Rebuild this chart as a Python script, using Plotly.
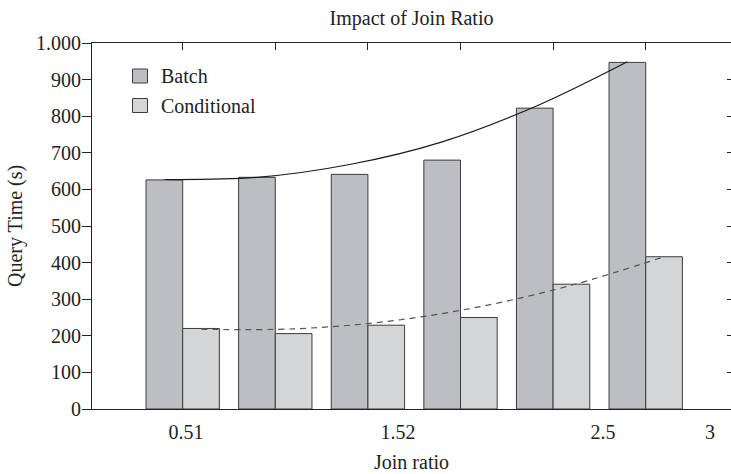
import plotly.graph_objects as go

# Query times per join-ratio group
positions = [1, 2, 3, 4, 5, 6]
series_names = ["Batch", "Conditional"]
batch = [626, 633, 641, 680, 822, 947]
conditional = [220, 206, 229, 250, 341, 416]

# Trend curves evaluated at each bar
batch_trend = [627, 633, 668, 730, 826, 949]
conditional_trend = [218, 219, 239, 279, 338, 416]

# Axis labelling
x_tick_pos = [1.036, 3.325, 5.539, 6.694]
x_tick_text = ["0.51", "1.52", "2.5", "3"]
y_tick_vals = [0, 100, 200, 300, 400, 500, 600, 700, 800, 900, 1000]
y_tick_text = ["0", "100", "200", "300", "400", "500", "600", "700", "800", "900", "1.000"]

FONT = "Liberation Serif"
INK = "#222222"
EDGE = "#3c3c3c"
FILLS = ["#bdbec2", "#d4d5d7"]
BAR_GAP = 0.208
half = (1 - BAR_GAP) / 4  # centre offset of each bar inside a group

# plot-area geometry in pixels, used to place the hand-drawn legend
L, R, T, B = 92, 731, 43, 409
W, H = R - L, B - T


def px_x(px):
    return (px - L) / W


def px_y(py):
    return (B - py) / H


fig = go.Figure()
for name, vals, fill in zip(series_names, [batch, conditional], FILLS):
    fig.add_trace(go.Bar(
        x=positions, y=vals, name=name, showlegend=False,
        marker=dict(color=fill, line=dict(color=EDGE, width=1)),
    ))
fig.add_trace(go.Scatter(
    x=[p - half for p in positions], y=batch_trend, mode="lines",
    line=dict(color="#1a1a1a", width=1.2, shape="spline"), showlegend=False,
    hoverinfo="skip",
))
fig.add_trace(go.Scatter(
    x=[p + half for p in positions], y=conditional_trend, mode="lines",
    line=dict(color="#555555", width=1.2, shape="spline", dash="6px,5px"),
    showlegend=False, hoverinfo="skip",
))
# Invisible trace to carry the top / right frame axes
fig.add_trace(go.Scatter(x=[1], y=[0], xaxis="x2", yaxis="y2", mode="markers",
                         marker=dict(opacity=0), showlegend=False, hoverinfo="skip"))

x_range = [0.0205, 6.921]

# Legend: swatch boxes and labels
shapes, annotations = [], []
for i, (name, fill) in enumerate(zip(series_names, FILLS)):
    top = 69 + i * 29.5
    shapes.append(dict(type="rect", xref="paper", yref="paper",
                       x0=px_x(132.5), x1=px_x(147.5), y0=px_y(top + 14), y1=px_y(top),
                       fillcolor=fill, line=dict(color=EDGE, width=1)))
    annotations.append(dict(text=name, xref="paper", yref="paper",
                            x=px_x(159), y=px_y(top + 7), xanchor="left", yanchor="middle",
                            showarrow=False, font=dict(size=20)))

annotations += [
    dict(text="Join ratio", xref="paper", yref="paper", x=0.5, y=px_y(462),
         xanchor="center", yanchor="middle", showarrow=False, font=dict(size=20)),
    dict(text="Query Time (s)", xref="paper", yref="paper", x=px_x(15),
         y=0.5, xanchor="center", yanchor="middle", textangle=-90,
         showarrow=False, font=dict(size=20)),
]

fig.update_layout(
    width=731, height=474,
    margin=dict(l=L, r=731 - R, t=T, b=474 - B),
    paper_bgcolor="white", plot_bgcolor="white",
    font=dict(family=FONT, size=20, color=INK),
    barmode="group", bargap=BAR_GAP, bargroupgap=0,
    title=dict(text="Impact of Join Ratio", x=0.563, xanchor="center",
               y=1 - 18 / 474, yanchor="middle", font=dict(size=20)),
    xaxis=dict(range=x_range, showgrid=False, zeroline=False,
               showline=True, linecolor=INK, linewidth=1.2,
               ticks="", tickmode="array", tickvals=x_tick_pos, ticktext=x_tick_text,
               ticklabelstandoff=5),
    xaxis2=dict(range=x_range, overlaying="x", side="top", showgrid=False,
                zeroline=False, showline=True, linecolor=INK, linewidth=1.2,
                ticks="inside", ticklen=7, tickcolor=INK, tickwidth=1,
                tickmode="array", tickvals=positions, showticklabels=False),
    yaxis=dict(range=[0, 1000], showgrid=False, zeroline=False,
               showline=True, linecolor=INK, linewidth=1.2,
               ticks="outside", ticklen=9, tickcolor=INK, tickwidth=1,
               tickmode="array", tickvals=y_tick_vals, ticktext=y_tick_text,
               ticklabelstandoff=-3),
    yaxis2=dict(range=[0, 1000], overlaying="y", side="right", showgrid=False,
                zeroline=False, showline=False,
                ticks="inside", ticklen=4, tickcolor=INK, tickwidth=1,
                tickmode="array", tickvals=y_tick_vals[1:-1], showticklabels=False),
    shapes=shapes,
    annotations=annotations,
)

fig.write_html("out.html")
